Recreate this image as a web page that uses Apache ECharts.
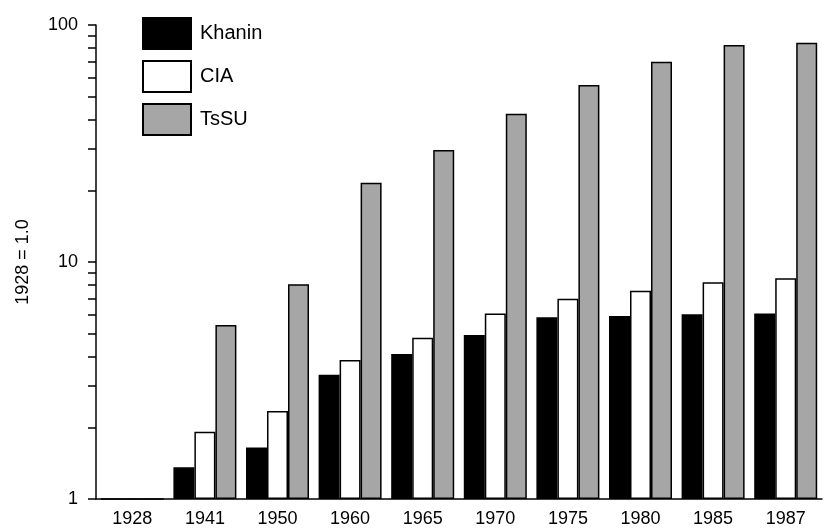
<!DOCTYPE html>
<html>
<head>
<meta charset="utf-8">
<script src="https://cdn.jsdelivr.net/npm/echarts@6/dist/echarts.min.js"></script>
<style>
  html, body { margin: 0; padding: 0; background: #fff; }
  #chart { width: 827px; height: 529px; }
</style>
</head>
<body>
<div id="chart"></div>
<script>
// output index, 1928 = 1.0 (log scale)
const years = ['1928', '1941', '1950', '1960', '1965', '1970', '1975', '1980', '1985', '1987']
const khanin = [1, 1.36, 1.65, 3.34, 4.09, 4.92, 5.84, 5.92, 6.02, 6.07]
const cia = [1, 1.92, 2.35, 3.86, 4.79, 6.07, 7.0, 7.57, 8.21, 8.54]
const tssu = [1, 5.42, 8.05, 21.6, 29.7, 42.2, 55.8, 70.0, 82.4, 84.2]
const yTicks = [1, 2, 3, 4, 5, 6, 7, 8, 9, 10, 20, 30, 40, 50, 60, 70, 80, 90, 100]
const yLabels = [1, 10, 100]

const font = 'Liberation Sans, Arial, sans-serif'
const chart = echarts.init(document.getElementById('chart'), null, { renderer: 'canvas' })

function bar(name, data, fill) {
  return {
    name, type: 'bar', data, barWidth: 21, barGap: '0%',
    itemStyle: { color: fill, borderColor: '#000', borderWidth: 1.5 }
  }
}

chart.setOption({
  animation: false,
  grid: { left: 96, right: 5, top: 25, bottom: 30 },
  legend: {
    orient: 'vertical', left: 137, top: 12, itemWidth: 48, itemHeight: 31, itemGap: 10,
    icon: 'rect', selectedMode: false,
    textStyle: { fontFamily: font, fontSize: 20, color: '#000', padding: [0, 0, 0, 4] },
    data: ['Khanin', 'CIA', 'TsSU']
  },
  xAxis: {
    type: 'category', data: years,
    axisLine: { lineStyle: { color: '#000', width: 1.5 } },
    axisTick: { show: false },
    axisLabel: { color: '#000', fontFamily: font, fontSize: 18, margin: 11 }
  },
  yAxis: {
    type: 'log', min: 1, max: 100, logBase: 10,
    name: '1928 = 1.0', nameLocation: 'middle', nameGap: 64, nameRotate: 90,
    nameTextStyle: { color: '#000', fontFamily: font, fontSize: 18 },
    axisLine: { show: true, lineStyle: { color: '#000', width: 1.5 } },
    axisTick: { show: true, length: 8, customValues: yTicks, lineStyle: { color: '#000', width: 1.5 } },
    axisLabel: { color: '#000', fontFamily: font, fontSize: 18, margin: 18, customValues: yLabels },
    splitLine: { show: false }
  },
  series: [
    bar('Khanin', khanin, '#000'),
    bar('CIA', cia, '#fff'),
    bar('TsSU', tssu, '#a6a6a6')
  ]
})
</script>
</body>
</html>
